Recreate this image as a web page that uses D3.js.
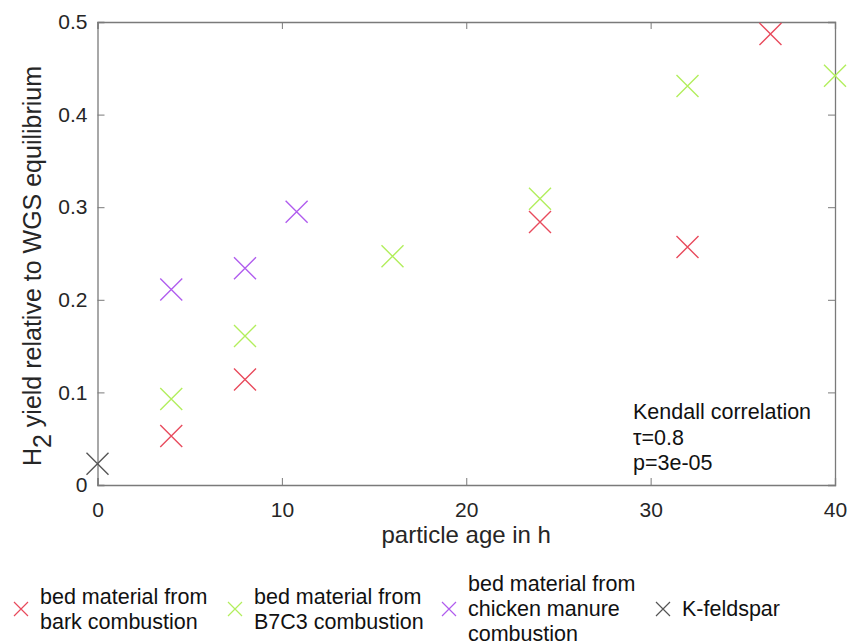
<!DOCTYPE html>
<html>
<head>
<meta charset="utf-8">
<script src="https://cdn.jsdelivr.net/npm/d3@7"></script>
<style>
  body { margin: 0; background: #fff; }
  text { font-family: "Liberation Sans", Arial, sans-serif; }
</style>
</head>
<body>
<div id="chart"></div>
<script>
// data
var barkAge = [4, 8, 24, 32, 36.5],
  barkYield = [0.053, 0.114, 0.284, 0.257, 0.487],
  b7c3Age = [4, 8, 16, 24, 32, 40],
  b7c3Yield = [0.093, 0.161, 0.247, 0.309, 0.431, 0.442],
  chickenAge = [4, 8, 10.8],
  chickenYield = [0.211, 0.234, 0.295],
  feldsparAge = [0],
  feldsparYield = [0.023],
  xTicks = [0, 10, 20, 30, 40],
  yTicks = [0, 0.1, 0.2, 0.3, 0.4, 0.5],
  seriesNames = [
    ["bed material from", "bark combustion"],
    ["bed material from", "B7C3 combustion"],
    ["bed material from", "chicken manure", "combustion"],
    ["K-feldspar"]
  ],
  seriesColors = ["#e84a5c", "#b2ee5c", "#b05cee", "#555555"],
  stats = ["Kendall correlation", "τ=0.8", "p=3e-05"];

var w = 849,
  h = 642,
  plotLeft = 97.5,
  plotRight = 835,
  plotTop = 22,
  plotBottom = 485;

var x = d3.scaleLinear().domain([0, 40]).range([plotLeft, plotRight]),
  y = d3.scaleLinear().domain([0, 0.5]).range([plotBottom, plotTop]);

var svg = d3.select("#chart").append("svg")
  .attr("width", w)
  .attr("height", h)
  .style("background-color", "white");

// axes (box with inward ticks on all sides)
var axisColor = "#7a7a7a", labelColor = "#262626";

svg.append("g").attr("class", "axis")
  .attr("transform", "translate(0," + plotBottom + ")")
  .call(d3.axisBottom(x).tickValues(xTicks).tickSize(-7).tickPadding(17).tickFormat(d3.format("d")));
svg.append("g").attr("class", "axis")
  .attr("transform", "translate(" + plotLeft + ",0)")
  .call(d3.axisLeft(y).tickValues(yTicks).tickSize(-7).tickPadding(10).tickFormat(function(d) { return d === 0 ? "0" : d3.format(".1f")(d); }));
svg.append("g").attr("class", "axis")
  .attr("transform", "translate(0," + plotTop + ")")
  .call(d3.axisTop(x).tickValues(xTicks).tickSize(-7).tickFormat(""));
svg.append("g").attr("class", "axis")
  .attr("transform", "translate(" + plotRight + ",0)")
  .call(d3.axisRight(y).tickValues(yTicks).tickSize(-7).tickFormat(""));

svg.selectAll(".axis .domain").attr("stroke", axisColor).attr("stroke-width", 1.3);
svg.selectAll(".axis line").attr("stroke", axisColor);
svg.selectAll(".axis text").attr("fill", labelColor).attr("font-size", 21)
  .attr("font-family", "'Liberation Sans', Arial, sans-serif");

// axis labels
svg.append("text")
  .attr("x", (plotLeft + plotRight) / 2)
  .attr("y", 543)
  .attr("text-anchor", "middle")
  .attr("font-size", 24)
  .attr("fill", labelColor)
  .text("particle age in h");

var yl = svg.append("text")
  .attr("transform", "translate(41," + 266 + ") rotate(-90)")
  .attr("text-anchor", "middle")
  .attr("font-size", 25)
  .attr("fill", labelColor);
yl.append("tspan").text("H");
yl.append("tspan").attr("dy", 10).text("2");
yl.append("tspan").attr("dy", -10).text(" yield relative to WGS equilibrium");

// markers
function cross(s) {
  return "M" + (-s) + "," + (-s) + "L" + s + "," + s + "M" + (-s) + "," + s + "L" + s + "," + (-s);
}

var series = [
  [barkAge, barkYield],
  [b7c3Age, b7c3Yield],
  [chickenAge, chickenYield],
  [feldsparAge, feldsparYield]
];

series.forEach(function(s, k) {
  var pts = s[0].map(function(a, i) { return [a, s[1][i]]; });
  svg.append("g").selectAll("path")
    .data(pts)
    .enter().append("path")
    .attr("transform", function(d) { return "translate(" + x(d[0]) + "," + y(d[1]) + ")"; })
    .attr("d", cross(11))
    .attr("fill", "none")
    .attr("stroke", seriesColors[k])
    .attr("stroke-width", 1.4);
});

// correlation annotation
svg.append("text")
  .attr("font-size", 21.5)
  .attr("fill", "#111")
  .selectAll("tspan")
  .data(stats)
  .enter().append("tspan")
  .attr("x", 633)
  .attr("y", function(d, i) { return 419 + i * 25.5; })
  .text(function(d) { return d; });

// legend
var legendX = [21, 235, 449, 663],
  legendMid = 609;

var leg = svg.append("g").selectAll("g")
  .data(seriesNames)
  .enter().append("g")
  .attr("transform", function(d, i) { return "translate(" + legendX[i] + "," + legendMid + ")"; });

leg.append("path")
  .attr("d", cross(7))
  .attr("fill", "none")
  .attr("stroke", function(d, i) { return seriesColors[i]; })
  .attr("stroke-width", 1.2);

leg.append("text")
  .attr("font-size", 21.5)
  .attr("fill", "#111")
  .selectAll("tspan")
  .data(function(d) { return d; })
  .enter().append("tspan")
  .attr("x", 19)
  .attr("y", function(d, i, nodes) { return 7 + (i - (nodes.length - 1) / 2) * 25; })
  .text(function(d) { return d; });
</script>
</body>
</html>
